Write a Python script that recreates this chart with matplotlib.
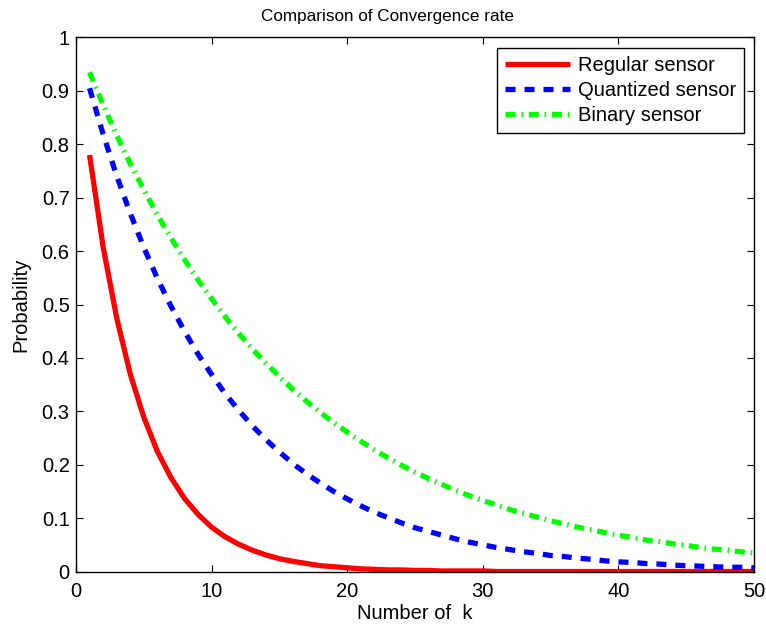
import matplotlib
matplotlib.use('Agg')
import matplotlib.pyplot as plt

# values, k = 1..50
k = list(range(1, 51))

regular = [0.780, 0.608, 0.475, 0.370, 0.289, 0.225, 0.176, 0.137, 0.107, 0.083,
           0.065, 0.051, 0.040, 0.031, 0.024, 0.019, 0.015, 0.011, 0.009, 0.007,
           0.005, 0.004, 0.003, 0.003, 0.002, 0.002, 0.001, 0.001, 0.001, 0.001,
           0.000, 0.000, 0.000, 0.000, 0.000, 0.000, 0.000, 0.000, 0.000, 0.000,
           0.000, 0.000, 0.000, 0.000, 0.000, 0.000, 0.000, 0.000, 0.000, 0.000]

quantized = [0.905, 0.819, 0.741, 0.671, 0.607, 0.549, 0.497, 0.450, 0.407, 0.369,
             0.333, 0.302, 0.273, 0.247, 0.224, 0.202, 0.183, 0.166, 0.150, 0.136,
             0.123, 0.111, 0.101, 0.091, 0.082, 0.075, 0.068, 0.061, 0.055, 0.050,
             0.045, 0.041, 0.037, 0.034, 0.030, 0.028, 0.025, 0.023, 0.020, 0.018,
             0.017, 0.015, 0.014, 0.012, 0.011, 0.010, 0.009, 0.008, 0.008, 0.007]

binary = [0.935, 0.874, 0.817, 0.764, 0.715, 0.668, 0.625, 0.584, 0.546, 0.511,
          0.477, 0.446, 0.417, 0.390, 0.365, 0.341, 0.319, 0.298, 0.279, 0.261,
          0.244, 0.228, 0.213, 0.199, 0.186, 0.174, 0.163, 0.152, 0.142, 0.133,
          0.125, 0.116, 0.109, 0.102, 0.095, 0.089, 0.083, 0.078, 0.073, 0.068,
          0.064, 0.059, 0.056, 0.052, 0.049, 0.045, 0.042, 0.040, 0.037, 0.035]

x_ticks = [0, 10, 20, 30, 40, 50]
y_ticks = [0, 0.1, 0.2, 0.3, 0.4, 0.5, 0.6, 0.7, 0.8, 0.9, 1]
y_tick_labels = ['0', '0.1', '0.2', '0.3', '0.4', '0.5', '0.6', '0.7', '0.8', '0.9', '1']

plt.rcParams['font.family'] = ['Liberation Sans', 'DejaVu Sans']

fig = plt.figure(figsize=(7.66, 6.27), dpi=100)
ax = fig.add_axes([0.0992, 0.0885, 0.8851, 0.8517])

ax.plot(k, regular, color='#ff0000', lw=3.8, solid_capstyle='butt', label='Regular sensor')
ax.plot(k, quantized, color='#0000ff', lw=3.8, linestyle=(0, (1.9, 1.7)),
        dash_capstyle='butt', label='Quantized sensor')
ax.plot(k, binary, color='#00ff00', lw=3.8, linestyle=(0, (1.9, 1.1, 0.3, 1.1)),
        dash_capstyle='butt', label='Binary sensor')

ax.set_xlim(0, 50)
ax.set_ylim(0, 1)
ax.set_xticks(x_ticks)
ax.set_yticks(y_ticks)
ax.set_yticklabels(y_tick_labels)
ax.tick_params(direction='in', length=5, width=0.8, top=True, right=True, labelsize=14.5)
ax.tick_params(axis='x', pad=7.5)
ax.tick_params(axis='y', pad=4.5)
for s in ax.spines.values():
    s.set_linewidth(1.0)

ax.set_title('Comparison of Convergence rate', fontsize=12.3, pad=12, x=0.459)
ax.set_xlabel('Number of  k', fontsize=14.5, labelpad=2)
ax.set_ylabel('Probability', fontsize=14.5, labelpad=8)

leg = ax.legend(loc='upper right', fontsize=14.5, handlelength=3.2, handletextpad=0.4,
                borderpad=0.4, labelspacing=0.3, fancybox=False, framealpha=1,
                borderaxespad=0.5)
leg.get_frame().set_edgecolor('black')
leg.get_frame().set_linewidth(1.0)

fig.savefig('out.png', dpi=100)
